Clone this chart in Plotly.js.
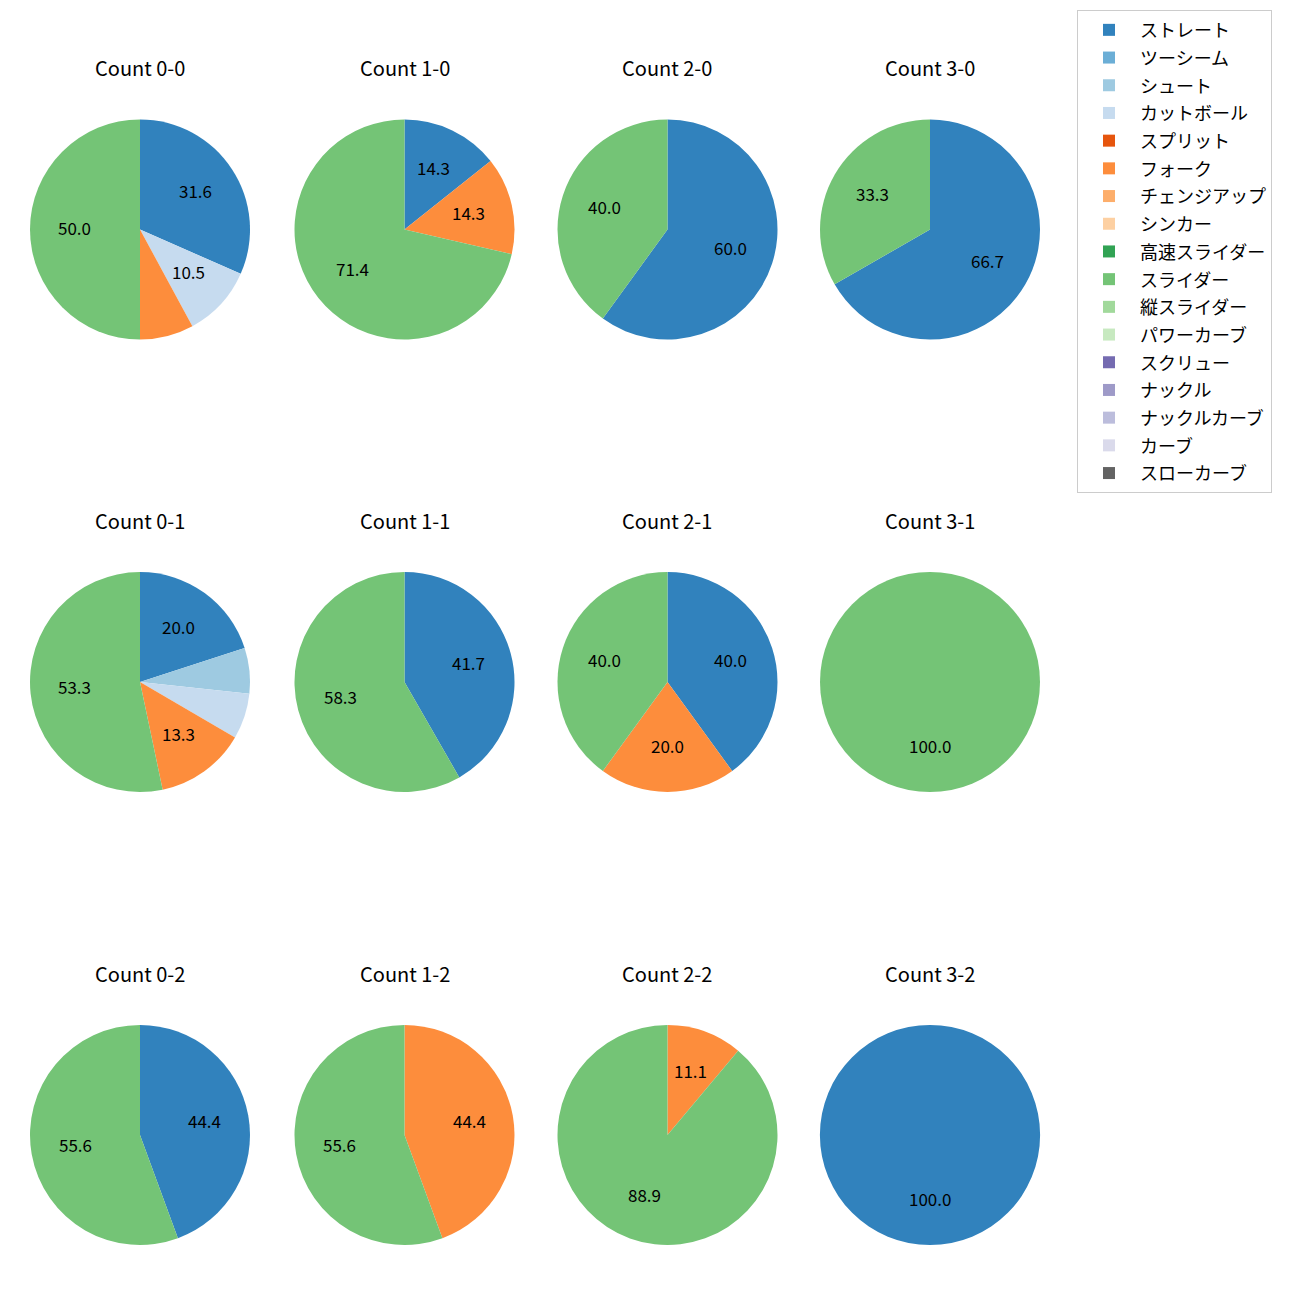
<!DOCTYPE html>
<html>
<head>
<meta charset="utf-8">
<script src="https://cdn.plot.ly/plotly-3.0.1.min.js"></script>
<style>body{margin:0;padding:0;background:#fff}</style>
</head>
<body>
<div id="chart" style="width:1300px;height:1300px"></div>
<script>
// Pitch types (legend order)
const pitchTypes = ['ストレート','ツーシーム','シュート','カットボール','スプリット','フォーク','チェンジアップ','シンカー','高速スライダー','スライダー','縦スライダー','パワーカーブ','スクリュー','ナックル','ナックルカーブ','カーブ','スローカーブ'];
const pitchColors = ['#3182bd','#6baed6','#9ecae1','#c6dbef','#e6550d','#fd8d3c','#fdae6b','#fdd0a2','#31a354','#74c476','#a1d99b','#c7e9c0','#756bb1','#9e9ac8','#bcbddc','#dadaeb','#636363'];

// Panel titles, row-major (3 rows x 4 columns)
const panelTitles = ['Count 0-0','Count 1-0','Count 2-0','Count 3-0',
                     'Count 0-1','Count 1-1','Count 2-1','Count 3-1',
                     'Count 0-2','Count 1-2','Count 2-2','Count 3-2'];

// Percentages per count, in pitchTypes order
const count_0_0 = [31.6,0,0,10.5,0,7.9,0,0,0,50.0,0,0,0,0,0,0,0];
const count_1_0 = [14.3,0,0,0,0,14.3,0,0,0,71.4,0,0,0,0,0,0,0];
const count_2_0 = [60.0,0,0,0,0,0,0,0,0,40.0,0,0,0,0,0,0,0];
const count_3_0 = [66.7,0,0,0,0,0,0,0,0,33.3,0,0,0,0,0,0,0];
const count_0_1 = [20.0,0,6.7,6.7,0,13.3,0,0,0,53.3,0,0,0,0,0,0,0];
const count_1_1 = [41.7,0,0,0,0,0,0,0,0,58.3,0,0,0,0,0,0,0];
const count_2_1 = [40.0,0,0,0,0,20.0,0,0,0,40.0,0,0,0,0,0,0,0];
const count_3_1 = [0,0,0,0,0,0,0,0,0,100.0,0,0,0,0,0,0,0];
const count_0_2 = [44.4,0,0,0,0,0,0,0,0,55.6,0,0,0,0,0,0,0];
const count_1_2 = [0,0,0,0,0,44.4,0,0,0,55.6,0,0,0,0,0,0,0];
const count_2_2 = [0,0,0,0,0,11.1,0,0,0,88.9,0,0,0,0,0,0,0];
const count_3_2 = [100.0,0,0,0,0,0,0,0,0,0,0,0,0,0,0,0,0];

const panelValues = [count_0_0,count_1_0,count_2_0,count_3_0,
                     count_0_1,count_1_1,count_2_1,count_3_1,
                     count_0_2,count_1_2,count_2_2,count_3_2];

// Layout geometry (pixels)
const W = 1300, H = 1300;
const colCenters = [140, 404.5, 667.5, 930];
const rowCenters = [229.5, 682, 1135];
const R = 110;
const titleOffset = 161;
const FONT = '"Noto Sans CJK JP", "Noto Sans", sans-serif';

const traces = [];
const annotations = [];
panelValues.forEach((vals, i) => {
  const row = Math.floor(i / 4), col = i % 4;
  const cx = colCenters[col], cy = rowCenters[row];
  traces.push({
    type: 'pie',
    labels: pitchTypes.map(p => '<span style="font-size:18px">' + p + '</span>'),
    values: vals,
    marker: {colors: pitchColors, line: {width: 0}},
    sort: false,
    direction: 'clockwise',
    rotation: 0,
    textinfo: 'none',
    hoverinfo: 'none',
    domain: {x: [(cx - R) / W, (cx + R) / W], y: [1 - (cy + R) / H, 1 - (cy - R) / H]},
    showlegend: true
  });
  // percentage labels at 0.6 radius, matplotlib-style autopct (shown when >= 10)
  const total = vals.reduce((a, b) => a + b, 0);
  let cum = 0;
  vals.forEach(v => {
    if (v <= 0) return;
    const f = v / total;
    const theta = (90 - 360 * (cum + f / 2)) * Math.PI / 180;
    cum += f;
    const pct = f * 100;
    if (pct < 10) return;
    annotations.push({
      x: (cx + 0.6 * R * Math.cos(theta)) / W,
      y: 1 - (cy - 0.6 * R * Math.sin(theta)) / H,
      xref: 'paper', yref: 'paper', xanchor: 'center', yanchor: 'middle',
      yshift: 2.5,
      text: pct.toFixed(1), showarrow: false,
      font: {family: FONT, size: 17, color: '#000'}
    });
  });
  annotations.push({
    x: cx / W, y: 1 - (cy - titleOffset) / H,
    xref: 'paper', yref: 'paper', xanchor: 'center', yanchor: 'middle',
    yshift: 1,
    text: panelTitles[i], showarrow: false,
    font: {family: FONT, size: 20, color: '#000'}
  });
});

const layout = {
  width: W, height: H, autosize: false,
  margin: {l: 0, r: 0, t: 0, b: 0},
  paper_bgcolor: '#fff', plot_bgcolor: '#fff',
  font: {family: FONT, color: '#000'},
  showlegend: true,
  legend: {
    x: 1077 / W, y: 1 - 10 / H, xanchor: 'left', yanchor: 'top',
    bordercolor: '#cccccc', borderwidth: 1, bgcolor: '#fff',
    font: {family: FONT, size: 19, color: '#000'},
    itemwidth: 52
  },
  annotations: annotations
};

Plotly.newPlot('chart', traces, layout, {staticPlot: true});
</script>
</body>
</html>
